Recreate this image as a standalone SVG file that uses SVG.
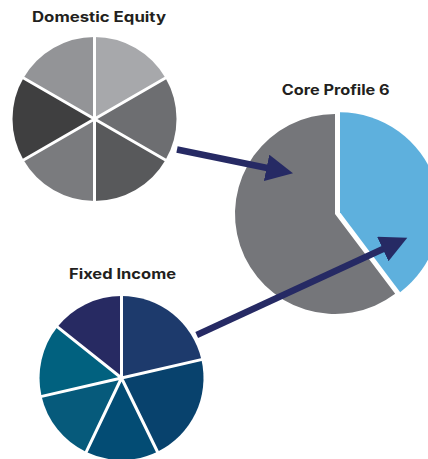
<svg xmlns="http://www.w3.org/2000/svg" width="428" height="459" viewBox="0 0 428 459">
<style>
.title{font-family:Inter,"Open Sans","Liberation Sans",sans-serif;font-weight:700;font-size:14px;fill:#231f20;text-anchor:middle}
.sep{stroke:#fff;stroke-width:3;stroke-linecap:butt;fill:none}
.arrow{stroke:#262a64;stroke-width:6.5;fill:none}
</style>
<defs>
<marker id="ah" markerUnits="userSpaceOnUse" markerWidth="28" markerHeight="28" viewBox="0 0 28 28" refX="2" refY="13.5" orient="auto">
<path d="M0,0 L27,13.5 L0,27 Z" fill="#262a64"/>
</marker>
</defs>
<rect width="428" height="459" fill="#fff"/>
<g id="domestic-equity">
<text class="title" x="99" y="22.3" textLength="134" lengthAdjust="spacingAndGlyphs">Domestic Equity</text>
<path d="M94.5,119 L94.5,37 A82,82 0 0 1 165.51,78 Z" fill="#a7a8ab"/>
<path d="M94.5,119 L165.51,78 A82,82 0 0 1 165.51,160 Z" fill="#6d6e71"/>
<path d="M94.5,119 L165.51,160 A82,82 0 0 1 94.5,201 Z" fill="#58595b"/>
<path d="M94.5,119 L94.5,201 A82,82 0 0 1 23.49,160 Z" fill="#7a7b7e"/>
<path d="M94.5,119 L23.49,160 A82,82 0 0 1 23.49,78 Z" fill="#3f3f40"/>
<path d="M94.5,119 L23.49,78 A82,82 0 0 1 94.5,37 Z" fill="#939497"/>
<path class="sep" d="M94.5,119 L94.5,35 M94.5,119 L167.2,77 M94.5,119 L167.2,161 M94.5,119 L94.5,203 M94.5,119 L21.8,161 M94.5,119 L21.8,77"/>
</g>
<g id="core-profile-6">
<text class="title" x="335.7" y="95" textLength="108" lengthAdjust="spacingAndGlyphs">Core Profile 6</text>
<path d="M335,214 L395.18,293.86 A100,100 0 1 1 335,114 Z" fill="#75767a"/>
<path d="M340,212.3 L340,112.3 A100,100 0 0 1 400.18,292.16 Z" fill="#5eb0dd"/>
</g>
<g id="fixed-income">
<text class="title" x="122.5" y="279.3" textLength="107" lengthAdjust="spacingAndGlyphs">Fixed Income</text>
<path d="M121.5,378 L121.5,296 A82,82 0 0 1 201.4,359.55 Z" fill="#1d3a6c"/>
<path d="M121.5,378 L201.4,359.55 A82,82 0 0 1 157.45,451.7 Z" fill="#08426d"/>
<path d="M121.5,378 L157.45,451.7 A82,82 0 0 1 86.2,452.01 Z" fill="#034c74"/>
<path d="M121.5,378 L86.2,452.01 A82,82 0 0 1 41.6,396.45 Z" fill="#065a7b"/>
<path d="M121.5,378 L41.6,396.45 A82,82 0 0 1 57.33,326.95 Z" fill="#01617f"/>
<path d="M121.5,378 L57.33,326.95 A82,82 0 0 1 121.5,296 Z" fill="#272a62"/>
<path class="sep" d="M121.5,378 L121.5,294 M121.5,378 L203.4,359.1 M121.5,378 L158.3,453.5 M121.5,378 L85.3,453.8 M121.5,378 L39.6,396.9 M121.5,378 L55.8,325.7"/>
</g>
<g id="connectors">
<line class="arrow" x1="177" y1="149.5" x2="268.5" y2="168.3" marker-end="url(#ah)"/>
<line class="arrow" x1="196.7" y1="335" x2="384.6" y2="248.2" marker-end="url(#ah)"/>
</g>
</svg>
